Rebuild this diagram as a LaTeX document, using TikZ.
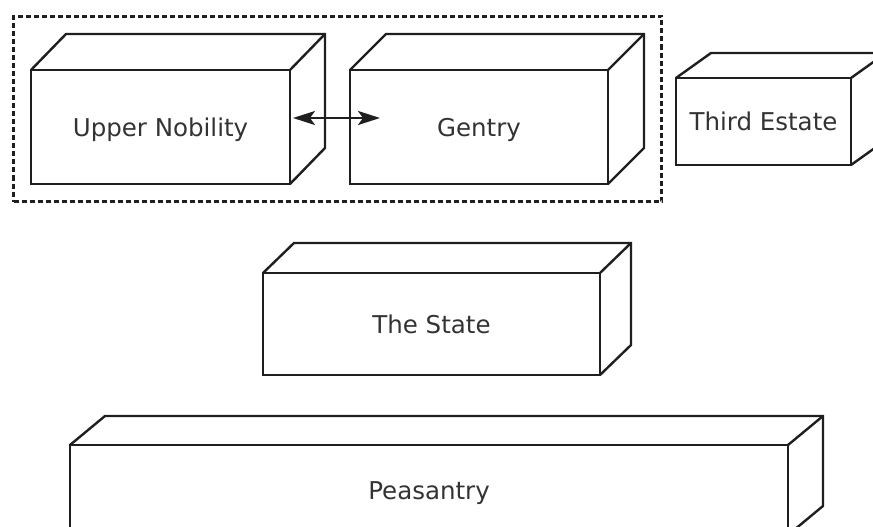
\documentclass[tikz,border=0pt]{standalone}
\usepackage{fontspec}
\setmainfont{DejaVu Sans}
\usetikzlibrary{arrows.meta,fit}
\definecolor{ink}{rgb}{0.12,0.12,0.12}
\definecolor{word}{rgb}{0.2,0.2,0.2}
\tikzset{
face/.style={draw=ink, line width=2.4pt, fill=white, inner sep=0pt, outer sep=0pt, text=word, text height=18pt, text depth=0pt, font=\fontsize{24.5}{29}\selectfont},
edge/.style={draw=ink, line width=2.4pt, line join=miter},
group/.style={draw=ink, line width=2.4pt, dash pattern=on 5pt off 3pt, inner sep=17.5pt},
pair/.style={{Stealth[length=22pt,width=14pt,inset=5pt]}-{Stealth[length=22pt,width=14pt,inset=5pt]}, draw=ink, line width=2.2pt}
}

\begin{document}
\begin{tikzpicture}[x=1pt,y=-1pt]
\useasboundingbox (0,0) rectangle (873,527);
\node[face, minimum width=259pt, minimum height=114pt] (upper) at (160.5,127) {Upper Nobility};
\node[face, minimum width=258pt, minimum height=114pt] (gentry) at (479,127) {Gentry};
\node[face, minimum width=175pt, minimum height=87pt] (third) at (763.5,121.5) {Third Estate};
\node[face, minimum width=337pt, minimum height=102pt] (state) at (431.5,324) {The State};
\node[face, minimum width=718pt, minimum height=90pt] (peasant) at (429,490) {Peasantry};
\foreach \n/\dx/\dy in {upper/35/36, gentry/36/36, third/35/25, state/31/30, peasant/35/29}
{
\coordinate (\n-back) at ([shift={(\dx,-\dy)}]\n.north east);
\draw[edge] (\n.north west) -- ++(\dx,-\dy) -- (\n-back) -- ([shift={(\dx,-\dy)}]\n.south east) -- (\n.south east);
\draw[edge] (\n.north east) -- (\n-back);
}
\node[group, fit=(upper.south west) (gentry-back)] (nobles) {};
\draw[pair] ([shift={(3,-9)}]upper.east) -- ([shift={(30,-9)}]gentry.west);
\end{tikzpicture}
\end{document}
